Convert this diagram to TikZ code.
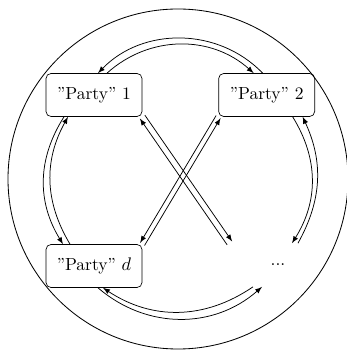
\documentclass[tikz,border=0pt]{standalone}
\usepackage{amsmath}
\usepackage{tikz}
\usetikzlibrary{positioning}

\tikzset{
  party/.style={draw, rounded corners=3pt, minimum width=57.6pt, minimum height=25.8pt, inner sep=2pt, font=\fontsize{10.5}{12}\selectfont},
  link/.style={line width=0.45pt, >=latex}
}

\begin{document}
\begin{tikzpicture}[x=0.6pt, y=0.6pt]
                    \useasboundingbox (0,0) rectangle (346,356);
                    \draw[line width=0.5pt] (178,177) circle (170);

                    \node[party] (p1) at (94,261) {''Party'' 1};
                    \node[party, right=45.6pt of p1] (p2) {''Party'' 2};
                    \node[party] (pd) at (94,90) {''Party'' $d$};
                    \node[party, draw=none] (dots) at (278,91) {...};

                    % arcs round the ring
                    \draw[link, <-] ([shift={(4,0)}]p1.north) to[bend left=46] ([shift={(-4,0)}]p2.north);
                    \draw[link, ->] ([shift={(13,0)}]p1.north) to[bend left=42] ([shift={(-13,0)}]p2.north);
                    \draw[link, ->] ([shift={(-30,0)}]p1.south) to[bend right=32] ([shift={(-31,0)}]pd.north);
                    \draw[link, <-] ([shift={(-26,0)}]p1.south) to[bend right=30] ([shift={(-24,0)}]pd.north);
                    \draw[link, <-] ([shift={(36,0)}]p2.south) to[bend left=27] ([shift={(20,0)}]dots.north);
                    \draw[link, ->] ([shift={(26,0)}]p2.south) to[bend left=32] ([shift={(14,0)}]dots.north);
                    \draw[link, <-] ([shift={(9,0)}]pd.south) to[bend right=34] ([shift={(-25,0)}]dots.south);
                    \draw[link, ->] ([shift={(4,0)}]pd.south) to[bend right=41] ([shift={(-16,0)}]dots.south);

                    % across
                    \draw[link, <-] ([shift={(-2.5,-1.7)}]p1.south east) -- ([shift={(-2.5,-1.7)}]dots.north west);
                    \draw[link, ->] ([shift={(2.5,1.7)}]p1.south east) -- ([shift={(2.5,1.7)}]dots.north west);
                    \draw[link, <-] ([shift={(2.2,-1.3)}]p2.south west) -- ([shift={(2.2,-1.3)}]pd.north east);
                    \draw[link, ->] ([shift={(-2.2,1.3)}]p2.south west) -- ([shift={(-2.2,1.3)}]pd.north east);
                \end{tikzpicture}
\end{document}
